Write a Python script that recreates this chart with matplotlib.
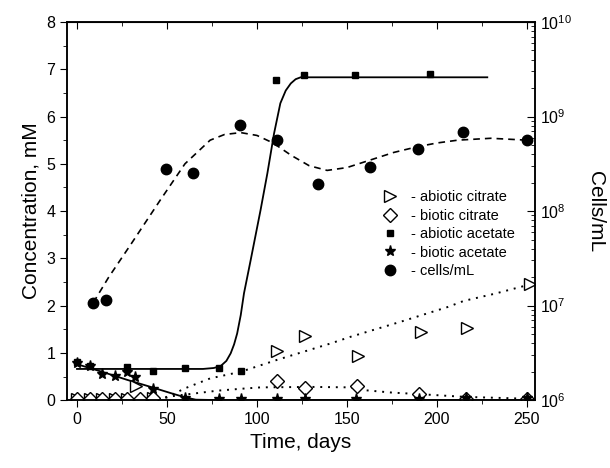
import numpy as np
import matplotlib
matplotlib.use("Agg")
import matplotlib.pyplot as plt
from matplotlib.ticker import MultipleLocator, LogLocator, NullFormatter

plt.rcParams["font.family"] = ["Liberation Sans", "DejaVu Sans"]

# --- measured points ---
t_abc = [0, 7, 14, 21, 28, 33, 42, 111, 126.6, 156, 191, 217, 252]
c_abc = [0.02, 0.02, 0.02, 0.02, 0.02, 0.3, 0.05, 1.04, 1.35, 0.93, 1.45, 1.52, 2.45]

t_bc = [0, 7, 14, 21, 28, 35, 42, 111, 126.6, 155.5, 190, 216, 250]
c_bc = [0.03, 0.03, 0.03, 0.03, 0.03, 0.03, 0.05, 0.41, 0.25, 0.30, 0.13, 0.02, 0.02]

t_aba = [0, 7, 28, 42, 60, 79, 91, 110.4, 126, 154.6, 196]
c_aba = [0.8, 0.72, 0.70, 0.62, 0.68, 0.67, 0.62, 6.77, 6.87, 6.88, 6.9]

t_ba = [0, 7, 14, 21, 28, 32, 42, 60, 79, 91, 111, 126.6, 155, 190, 216, 250]
c_ba = [0.78, 0.72, 0.55, 0.52, 0.6, 0.49, 0.23, 0.05, 0.02, 0.02, 0.02, 0.02, 0.02,
        0.02, 0.04, 0.04]

t_cells = [9, 16, 49.7, 64.5, 90.5, 111, 134, 163, 189.7, 214.5, 250]
log_cells = [7.03, 7.06, 8.44, 8.40, 8.91, 8.75, 8.29, 8.47, 8.66, 8.84, 8.75]

# --- fitted curves ---
fit_aba_t = [0, 70, 76, 79.8, 83, 85.4, 87.3, 89, 91, 92.8, 96.5, 102, 105.8, 109.5,
             113, 116, 118.8, 121.5, 124.3, 130, 228]
fit_aba_c = [0.66, 0.66, 0.68, 0.72, 0.83, 0.99, 1.18, 1.41, 1.80, 2.26, 2.96, 4.02,
             4.80, 5.64, 6.28, 6.55, 6.70, 6.79, 6.83, 6.83, 6.83]

fit_ba_t = [0, 13.9, 27.8, 41.8, 52, 60, 66, 80, 250]
fit_ba_c = [0.76, 0.6, 0.43, 0.27, 0.15, 0.06, 0.01, 0.0, 0.0]

fit_abc_t = [45, 52, 60, 74, 91, 111, 141, 152, 180, 206, 215, 232, 250]
fit_abc_c = [0.0, 0.1, 0.25, 0.46, 0.60, 0.85, 1.2, 1.34, 1.66, 1.97, 2.1, 2.25, 2.43]

fit_bc_t = [45, 52, 65, 78, 91, 102, 130, 152, 160, 175, 189, 215, 250]
fit_bc_c = [0.0, 0.08, 0.14, 0.20, 0.24, 0.27, 0.28, 0.27, 0.21, 0.16, 0.13, 0.07, 0.03]

fit_cells_t = [9, 17.6, 30, 46.4, 60, 74, 82, 91, 100, 109, 119, 129, 139, 150, 163,
               176, 189, 200, 211.6, 230, 250]
fit_cells_log = [7.03, 7.30, 7.65, 8.12, 8.50, 8.75, 8.81, 8.83, 8.80, 8.72, 8.59,
                 8.48, 8.43, 8.46, 8.54, 8.62, 8.68, 8.72, 8.75, 8.77, 8.75]

fig = plt.figure(figsize=(6.1, 4.68), dpi=100)
ax = fig.add_axes([0.11, 0.145, 0.767, 0.808])
ax2 = ax.twinx()

# curves
ax.plot(fit_aba_t, fit_aba_c, "-", color="k", lw=1.3)
ax.plot(fit_ba_t, fit_ba_c, "-", color="k", lw=1.3)
ax.plot(fit_abc_t, fit_abc_c, color="k", lw=1.4, dashes=(1, 3))
ax.plot(fit_bc_t, fit_bc_c, color="k", lw=1.4, dashes=(1, 3))
ax2.plot(fit_cells_t, 10 ** np.array(fit_cells_log), color="k", lw=1.2, dashes=(4, 3))

# markers
h1, = ax.plot(t_abc, c_abc, ">", ms=8, mfc="white", mec="k", mew=1.0, ls="none",
              label="- abiotic citrate")
h2, = ax.plot(t_bc, c_bc, "D", ms=7, mfc="white", mec="k", mew=1.0, ls="none",
              label="- biotic citrate")
h3, = ax.plot(t_aba, c_aba, "s", ms=4.5, color="k", ls="none", label="- abiotic acetate")
h4, = ax.plot(t_ba, c_ba, "*", ms=8, color="k", ls="none", label="- biotic acetate")
h5, = ax2.plot(t_cells, 10 ** np.array(log_cells), "o", ms=7.5, color="k", ls="none",
               label="- cells/mL")

ax.set_xlim(-5.5, 254.5)
ax.set_ylim(0, 8)
ax.xaxis.set_major_locator(MultipleLocator(50))
ax.xaxis.set_minor_locator(MultipleLocator(25))
ax.yaxis.set_major_locator(MultipleLocator(1))
ax.yaxis.set_minor_locator(MultipleLocator(0.5))
ax.tick_params(axis="both", which="major", direction="out", length=5, labelsize=11.5,
               top=False)
ax.tick_params(axis="both", which="minor", direction="out", length=3)
ax.set_xlabel("Time, days", fontsize=15)
ax.set_ylabel("Concentration, mM", fontsize=15)

# top ticks pointing in
axt = ax.secondary_xaxis("top")
axt.xaxis.set_major_locator(MultipleLocator(50))
axt.xaxis.set_minor_locator(MultipleLocator(25))
axt.tick_params(which="major", direction="in", length=5, labeltop=False)
axt.tick_params(which="minor", direction="in", length=3)

ax2.set_yscale("log")
ax2.set_ylim(1e6, 1e10)
ax2.yaxis.set_major_locator(LogLocator(base=10, numticks=10))
ax2.yaxis.set_minor_locator(LogLocator(base=10, subs=np.arange(2, 10), numticks=20))
ax2.yaxis.set_minor_formatter(NullFormatter())
ax2.tick_params(which="major", direction="in", length=6, labelsize=11.5)
ax2.tick_params(which="minor", direction="in", length=3)
ax2.set_ylabel("Cells/mL", fontsize=15, rotation=270, labelpad=24)

for a in (ax, ax2):
    for s in a.spines.values():
        s.set_linewidth(1.1)

ax.legend(handles=[h1, h2, h3, h4, h5], loc="upper left",
          bbox_to_anchor=(0.66, 0.57), frameon=False, fontsize=10.5,
          handlelength=1.2, handletextpad=0.8, labelspacing=0.3, borderaxespad=0)

fig.savefig("out.png", dpi=100)
